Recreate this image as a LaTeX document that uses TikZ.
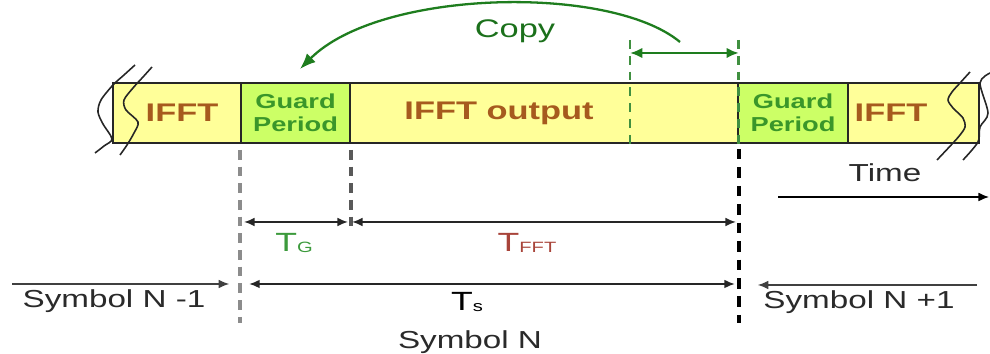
\documentclass[tikz,border=0pt]{standalone}
\usepackage{fontspec}
\setmainfont{Liberation Sans}[FakeStretch=1.35]
\usetikzlibrary{arrows.meta}
\definecolor{barfill}{HTML}{FFFF99}
\definecolor{guardfill}{HTML}{CCFF66}
\definecolor{ifftbrown}{HTML}{A65A1E}
\definecolor{guardgreen}{HTML}{3A962A}
\definecolor{copygreen}{HTML}{1E7D1E}
\definecolor{tfftred}{HTML}{A8443A}
\definecolor{tggreen}{HTML}{3C9A3C}
\definecolor{textgray}{HTML}{2A2A2A}
\newcommand{\Tsub}[1]{T\raisebox{-0.12ex}{\fontsize{8.5}{9}\selectfont #1}}

\begin{document}
\begin{tikzpicture}[x=1cm,y=1cm,
  cell/.style={draw=black!85, line width=1pt, minimum height=1.2cm, inner sep=0pt},
  ifftcell/.style={cell, fill=barfill},
  guardcell/.style={cell, fill=guardfill, align=center, text=guardgreen,
    font=\fontsize{11.5}{13}\selectfont\bfseries},
  iffttext/.style={text=ifftbrown, font=\fontsize{14.5}{16}\selectfont\bfseries},
  lbl/.style={text=textgray, font=\fontsize{14}{16}\selectfont, inner sep=1pt},
  tlbl/.style={font=\fontsize{15}{16}\selectfont, inner sep=1pt},
  wave/.style={draw=black!85, line width=0.9pt},
  dimarrow/.style={draw=black!85, line width=0.8pt, {Latex[length=6pt,width=5pt]}-{Latex[length=6pt,width=5pt]}},
  onearrow/.style={draw=black!75, line width=0.7pt, -{Latex[length=6pt,width=5pt]}},
  greydash/.style={draw=black!45, line width=1.9pt, dash pattern=on 5.5pt off 4pt},
  blackdash/.style={draw=black, line width=2.3pt, dash pattern=on 6pt off 4.5pt},
  greendash/.style={draw=copygreen!85, line width=1.7pt, dash pattern=on 5pt off 4pt},
  copyarrow/.style={draw=copygreen, line width=1.3pt, -{Latex[length=9pt,width=7pt]}}]
\useasboundingbox (0,0) rectangle (19.8,7.08);

% the bar of cells
\node[ifftcell, minimum width=2.56cm, label={[iffttext, xshift=0.1cm]center:IFFT}] (ifftL) at (3.54,4.82) {};
\node[guardcell, minimum width=2.18cm] (guardL) at (5.91,4.82) {Guard\\Period};
\node[ifftcell, minimum width=7.76cm, label={[iffttext, xshift=-0.9cm]center:IFFT output}] (ifftout) at (10.88,4.82) {};
\node[guardcell, minimum width=2.2cm] (guardR) at (15.86,4.82) {Guard\\Period};
\node[ifftcell, minimum width=2.62cm, label={[iffttext, xshift=-0.45cm]center:IFFT}] (ifftR) at (18.27,4.82) {};

% broken ends
\draw[wave] plot[smooth] coordinates {(2.70,5.78) (2.48,5.58) (2.26,5.38) (2.02,5.08) (1.96,4.84) (2.06,4.60) (2.24,4.30) (2.08,4.16) (1.90,4.02)};
\draw[wave] plot[smooth] coordinates {(3.04,5.74) (2.86,5.54) (2.66,5.32) (2.48,5.08) (2.52,4.88) (2.76,4.64) (2.68,4.42) (2.54,4.18) (2.40,3.98)};
\draw[wave] plot[smooth] coordinates {(19.40,5.64) (19.20,5.42) (19.04,5.24) (18.96,5.08) (19.06,4.92) (19.26,4.72) (19.30,4.54) (19.20,4.38) (19.06,4.22) (18.74,3.88)};
\draw[wave] plot[smooth] coordinates {(19.80,5.62) (19.60,5.42) (19.76,4.82) (19.60,4.54) (19.56,4.24) (19.26,3.88)};

% cyclic prefix source
\coordinate (cpL) at (12.6,6.28);
\coordinate (cpR) at (ifftout.east |- cpL);
\coordinate (copyfrom) at (13.6,6.24);
\coordinate (copyto) at (6.0,5.70);
\draw[greendash, line width=1.3pt] (cpL) -- (cpL |- ifftout.south);
\draw[greendash] (cpR) -- (ifftout.south east);
\draw[draw=copygreen, line width=1.4pt, {Latex[length=7pt,width=6pt]}-{Latex[length=7pt,width=6pt]}] ([yshift=-0.26cm]cpL) -- ([yshift=-0.26cm]cpR);
\draw[copyarrow] (copyfrom) .. controls (12.2,7.4) and (7.6,7.3) .. (copyto);
\node[text=copygreen!90!black, font=\fontsize{14.5}{16}\selectfont] (copylbl) at (10.3,6.45) {Copy};

% symbol boundaries
\coordinate (dimrow) at (0,2.64);
\coordinate (symrow) at (0,1.40);
\coordinate (symprevend) at (0.24,1.40);
\coordinate (symnextend) at (19.54,1.38);
\draw[greydash] ([yshift=-0.12cm]guardL.south west) -- (guardL.west |- 0,0.62);
\draw[greydash, draw=black!65] ([yshift=-0.12cm]guardL.south east) -- (guardL.east |- 0,2.42);
\draw[blackdash] ([yshift=-0.1cm]ifftout.south east) -- (ifftout.east |- 0,0.62);

% durations
\draw[dimarrow, shorten <=0.08cm, shorten >=0.06cm] (guardL.west |- dimrow) -- (guardL.east |- dimrow);
\draw[dimarrow, shorten <=0.06cm, shorten >=0.06cm] (ifftout.west |- dimrow) -- (ifftout.east |- dimrow);
\draw[dimarrow, line width=1pt, shorten <=0.18cm, shorten >=0.08cm] (guardL.west |- symrow) -- (ifftout.east |- symrow);
\draw[onearrow, shorten >=0.22cm] (symprevend) -- (guardL.west |- symrow);
\draw[onearrow, shorten >=0.38cm] (symnextend) -- (ifftout.east |- symnextend);
\node[tlbl, text=tggreen] (tglbl) at (5.88,2.22) {\Tsub{G}};
\node[tlbl, text=tfftred] (tfftlbl) at (10.54,2.22) {\Tsub{FFT}};
\node[tlbl, text=black] (tslbl) at (9.34,1.04) {\Tsub{s}};
\node[lbl] (symprev) at (2.28,1.06) {Symbol N -1};
\node[lbl] (symcur) at (9.4,0.24) {Symbol N};
\node[lbl] (symnext) at (17.18,1.04) {Symbol N +1};

% time axis
\coordinate (timefrom) at (15.56,3.14);
\coordinate (timeto) at (19.78,3.14);
\draw[onearrow, draw=black] (timefrom) -- (timeto);
\node[lbl] (timelbl) at (17.7,3.62) {Time};
\end{tikzpicture}
\end{document}
